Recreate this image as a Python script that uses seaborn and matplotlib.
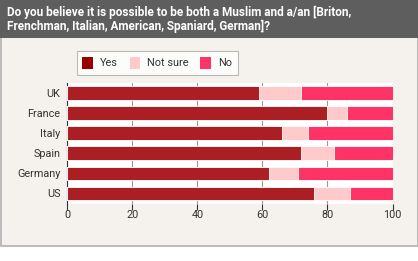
import matplotlib
matplotlib.use("Agg")
import matplotlib.pyplot as plt
import seaborn as sns
import pandas as pd
import numpy as np
from matplotlib.patches import Rectangle, Patch

countries = ["UK", "France", "Italy", "Spain", "Germany", "US"]
yes = [59, 80, 66, 72, 62, 76]
not_sure = [13, 6, 8, 10, 9, 11]
no = [28, 14, 26, 18, 29, 13]
series_names = ["Yes", "Not sure", "No"]
xticks = [0, 20, 40, 60, 80, 100]

title = "Do you believe it is possible to be both a Muslim and a/an [Briton,\nFrenchman, Italian, American, Spaniard, German]?"

c_yes = "#ab1e24"
c_ns = "#ffcaca"
c_no = "#ff3366"
c_yes_leg = "#990000"

sns.set_theme(style="white")
plt.rcParams['font.family'] = ['Roboto', 'DejaVu Sans']
title_fs, tick_fs = 8.5, 7.8

W, H = 418, 261
fig = plt.figure(figsize=(W / 100, H / 100), dpi=100)
fig.patch.set_facecolor("white")

def fx(px):
    return px / W

def fy(py):
    return 1 - py / H

# panel background and border
fig.patches.append(Rectangle((fx(0.5), fy(245.5)), fx(417), (245) / H,
                             transform=fig.transFigure, facecolor="#f5f1ec",
                             edgecolor="#b0b0b0", linewidth=1.2, zorder=-3))
# title bar
fig.patches.append(Rectangle((0, fy(38)), 1, 38 / H, transform=fig.transFigure,
                             facecolor="#5e5e5e", edgecolor="none", zorder=-2))
fig.text(fx(7), fy(19.5), title, color="white", fontsize=title_fs, fontweight="bold",
         va="center", ha="left", linespacing=1.1, zorder=5)

df = pd.DataFrame({"country": countries, "yes": yes, "ns": not_sure, "no": no})
df["cum_ns"] = df["yes"] + df["ns"]
df["cum_no"] = df["cum_ns"] + df["no"]

ax = fig.add_axes([fx(67.3), fy(203.5), fx(392.5) - fx(67.3), (203.5 - 83) / H])
ax.set_zorder(3)
ax.set_facecolor("white")

for col, c in [("cum_no", c_no), ("cum_ns", c_ns), ("yes", c_yes)]:
    sns.barplot(data=df, x=col, y="country", orient="h", color=c, ax=ax,
                width=0.68, edgecolor="white", linewidth=0.6, saturation=1,
                zorder=3)

ax.set_xlim(0, 100)
ax.set_ylim(5.5, -0.5)
ax.set_xticks(xticks)
ax.set_xticklabels([str(t) for t in xticks])
ax.set_xlabel("")
ax.set_ylabel("")
ax.grid(axis="x", color="#999999", linewidth=0.8, zorder=0)
ax.set_axisbelow(True)
for s in ["top", "right"]:
    ax.spines[s].set_visible(False)
ax.spines["bottom"].set_visible(False)
ax.spines["left"].set_color("#333333")
ax.spines["left"].set_linewidth(0.8)
ax.tick_params(axis="x", length=4, width=0.8, color="#333333", labelsize=tick_fs,
               labelcolor="#333333", pad=1, bottom=True)
ax.tick_params(axis="y", length=0, labelsize=tick_fs, labelcolor="#333333", pad=5)

handles = [Patch(facecolor=c_yes_leg, edgecolor="none"),
           Patch(facecolor=c_ns, edgecolor="none"),
           Patch(facecolor=c_no, edgecolor="none")]
leg = fig.legend(handles, series_names, loc="upper left",
                 bbox_to_anchor=(fx(76.5), fy(51)), ncol=3, fontsize=tick_fs,
                 frameon=True, fancybox=False, handlelength=1.0, handleheight=1.3,
                 columnspacing=1.1, handletextpad=0.6, borderpad=0.55,
                 borderaxespad=0)
leg.set_zorder(6)
leg.get_frame().set_edgecolor("#aaaaaa")
leg.get_frame().set_linewidth(0.8)
leg.get_frame().set_facecolor("white")
for t in leg.get_texts():
    t.set_color("#333333")

fig.savefig("out.png", dpi=100, facecolor=fig.get_facecolor())
